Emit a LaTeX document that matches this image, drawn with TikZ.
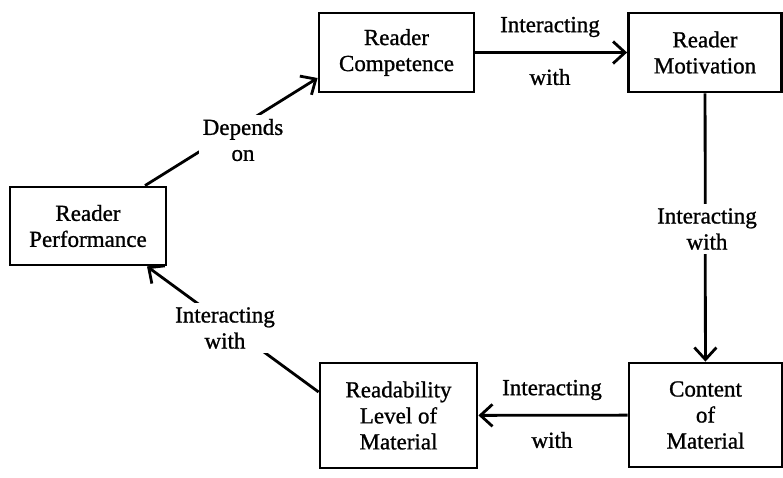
\documentclass[tikz,border=0pt]{standalone}
\usepackage{fontspec}
\setmainfont[FakeBold=1]{Liberation Serif}
\usetikzlibrary{arrows.meta}
\begin{document}
\begin{tikzpicture}[x=1pt,y=-1pt,
  box/.style={draw,line width=2.8pt,inner sep=0pt,align=center,font=\fontsize{23}{26}\selectfont},
  lbl/.style={inner sep=2pt,align=center,font=\fontsize{23}{26}\selectfont},
  lblw/.style={lbl,fill=white,inner sep=4pt},
  conn/.style={line width=2.8pt,-{Straight Barb[length=12pt,width=22pt,line width=2.8pt]}}]
\useasboundingbox (0,0) rectangle (783,477);
\node[box,minimum width=155pt,minimum height=79pt] (comp) at (396.5,52.5) {Reader\\Competence};
\node[box,minimum width=153pt,minimum height=79pt] (motiv) at (705,52.5) {Reader\\Motivation};
\node[box,minimum width=156pt,minimum height=78pt] (perf) at (88,226) {Reader\\Performance};
\node[box,minimum width=157pt,minimum height=105pt] (read) at (398.5,415.5) {Readability\\Level of\\Material};
\node[box,minimum width=153pt,minimum height=104pt] (cont) at (705.5,415) {Content\\of\\Material};
\draw[conn] (comp) -- (motiv);
\draw[conn] (motiv) -- (cont);
\draw[conn] (cont) -- (read);
\draw[conn] ([yshift=23.5pt]read.west) -- ([xshift=59pt]perf.south);
\draw[conn] ([xshift=57pt]perf.north) -- ([yshift=-25.5pt]comp.west);
\node[lbl] (l1a) at (550,27) {Interacting};
\node[lbl] (l1b) at (550,77) {with};
\node[lblw] (l2) at (707,229) {Interacting\\with};
\node[lbl] (l3a) at (552,390) {Interacting};
\node[lbl] (l3b) at (552,440) {with};
\node[lblw] (l4) at (225,328) {Interacting\\with};
\node[lblw] (l5) at (243,140) {Depends\\on};
\end{tikzpicture}
\end{document}
